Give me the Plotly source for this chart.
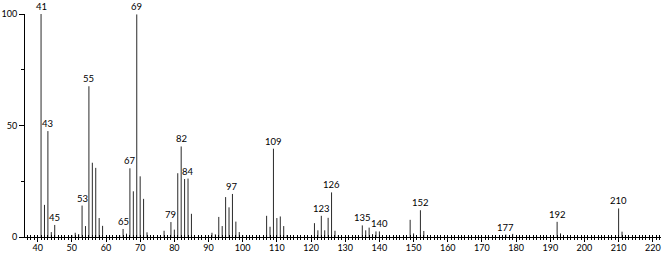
import plotly.graph_objects as go

mz = [41, 42, 43, 44, 45, 50, 51, 52, 53, 54, 55, 56, 57, 58, 59,
      64, 65, 66, 67, 68, 69, 70, 71, 72, 77, 79, 80, 81, 82, 83, 84, 85,
      91, 92, 93, 94, 95, 96, 97, 98, 99, 100, 107, 108, 109, 110, 111, 112, 113,
      121, 122, 123, 124, 125, 126, 127, 128, 135, 136, 137, 138, 139, 140,
      149, 150, 152, 153, 177, 179, 192, 193, 210, 211, 212]
intensity = [100, 14.4, 47.5, 2.2, 5.4, 0.9, 1.9, 1.3, 14.1, 4.9, 67.6, 33.3, 31.0, 8.5, 5.0,
             0.9, 3.6, 1.5, 30.8, 20.5, 99.8, 27.2, 17.1, 2.1, 2.8, 6.7, 3.3, 28.6, 40.6, 26.0, 26.2, 10.4,
             1.9, 1.2, 9.0, 4.9, 17.9, 13.3, 19.3, 6.9, 2.2, 0.9, 9.5, 4.6, 39.6, 8.5, 9.2, 4.9, 0.9,
             6.2, 3.0, 9.5, 3.0, 8.6, 20.0, 2.8, 0.9, 5.2, 3.0, 4.2, 1.3, 2.5, 2.5,
             7.7, 1.6, 12.0, 2.7, 1.1, 1.4, 6.8, 1.6, 12.8, 2.4, 0.9]
labeled = [41, 43, 45, 53, 55, 65, 67, 69, 79, 82, 84, 97, 109, 123, 126,
           135, 140, 152, 177, 192, 210]

xs, ys = [], []
for m, v in zip(mz, intensity):
    xs += [m, m, None]
    ys += [0, v, None]

fig = go.Figure()
fig.add_trace(go.Scatter(x=xs, y=ys, mode="lines",
                         line=dict(color="#2a2a2a", width=1),
                         hoverinfo="skip", showlegend=False))

lookup = dict(zip(mz, intensity))
for m in labeled:
    fig.add_annotation(x=m, y=lookup[m], text=str(m), showarrow=False,
                       xanchor="center", yanchor="bottom", yshift=0,
                       font=dict(family="Lato", size=9.5, color="#000000"))

fig.update_layout(
    width=666, height=254,
    margin=dict(l=25, r=5, t=14, b=17, autoexpand=False),
    paper_bgcolor="white", plot_bgcolor="white",
    font=dict(family="Lato", size=9, color="#000000"),
    xaxis=dict(range=[36.3, 222.4], tickmode="linear", tick0=40, dtick=10,
               ticks="outside", ticklen=4, tickcolor="#000", tickwidth=1,
               showline=True, linecolor="#000", linewidth=1,
               showgrid=False, zeroline=False, automargin=False,
               ticklabelstandoff=-2,
               minor=dict(dtick=1, tick0=40, ticks="inside", ticklen=2,
                          tickcolor="#000", showgrid=False),
               tickfont=dict(family="Lato", size=9)),
    xaxis2=dict(range=[36.3, 222.4], overlaying="x", anchor="y", side="bottom",
                tickmode="linear", tick0=40, dtick=1, ticks="outside", ticklen=2,
                tickcolor="#000", showticklabels=False, showgrid=False,
                zeroline=False, showline=False, automargin=False),
    yaxis=dict(range=[0, 100], tickmode="array", tickvals=[0, 50, 100],
               ticktext=["0", "50", "100"],
               ticks="outside", ticklen=5, tickcolor="#000",
               showline=True, linecolor="#000", linewidth=1,
               showgrid=False, zeroline=False, automargin=False,
               minor=dict(tickvals=[25, 75], ticks="outside", ticklen=3,
                          tickcolor="#000", showgrid=False),
               tickfont=dict(family="Lato", size=9)),
)
fig.add_trace(go.Scatter(x=[None], y=[None], xaxis="x2", yaxis="y",
                         showlegend=False, hoverinfo="skip"))

fig.write_html("out.html")
